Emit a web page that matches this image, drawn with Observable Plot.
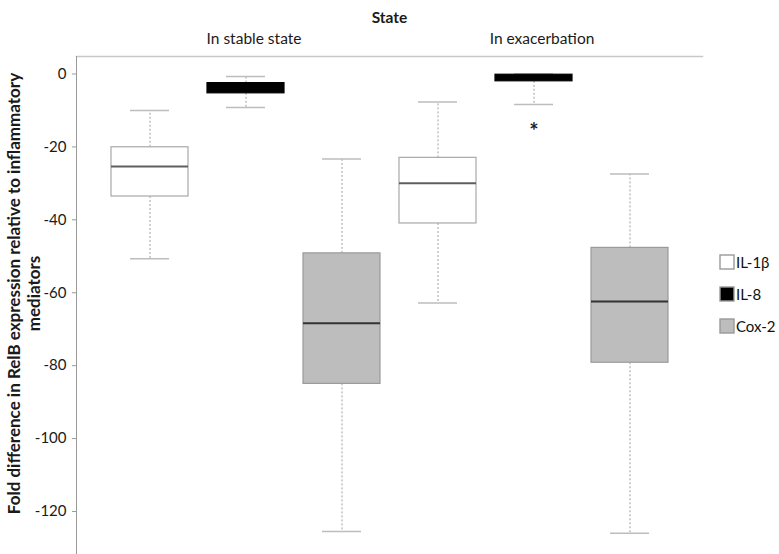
<!DOCTYPE html>
<html>
<head>
<meta charset="utf-8">
<script src="https://cdn.jsdelivr.net/npm/d3@7"></script>
<script src="https://cdn.jsdelivr.net/npm/@observablehq/plot@0.6"></script>
<style>
  html, body { margin: 0; padding: 0; background: #fff; }
  #wrap { position: relative; width: 779px; height: 554px; font-family: Lato, "DejaVu Sans", sans-serif; }
  #legend { position: absolute; left: 720px; top: 255px; width: 58px; }
  #wrap svg [aria-label="x-axis label"] { font-weight: bold; }
  #legend * { overflow: visible !important; max-width: none !important; text-overflow: clip !important; white-space: nowrap; }
  .lg-swatches { font-family: Lato, sans-serif; font-size: 15px; color: #111; columns: auto !important; }
  .lg-swatch { margin: 0 0 18px 0 !important; padding: 0 !important; height: 14px; line-height: 14px; display: flex; align-items: center; }
  .lg-swatch svg { margin-right: 2px !important; }
  .lg-swatch svg rect { stroke: #9a9a9a; stroke-width: 1.4px; }
</style>
</head>
<body>
<div id="wrap"><div id="legend"></div></div>
<script>
// ---- data ----
const states = ["In stable state", "In exacerbation"];
const mediators = ["IL-1β", "IL-8", "Cox-2"];
// order: stable IL-1β, stable IL-8, stable Cox-2, exac IL-1β, exac IL-8, exac Cox-2
const whiskerHigh = [-10, -0.7, -23.3, -7.7, 0, -27.4];
const boxTop      = [-20.1, -2.5, -49.2, -23, -0.2, -47.7];
const medianVal   = [-25.4, -4, -68.4, -30, -1.2, -62.4];
const boxBottom   = [-33.6, -5.3, -85, -41, -2, -79.2];
const whiskerLow  = [-50.7, -9.2, -125.5, -62.8, -8.4, -126];
const outlierState = ["In exacerbation"];
const outlierMediator = ["IL-8"];
const outlierValue = [-14.4];
const yTicks = [0, -20, -40, -60, -80, -100, -120];
const yLabel = "Fold difference in RelB expression relative to inflammatory\nmediators";

// ---- tables built from the arrays ----
const rows = states.flatMap((s, i) => mediators.map((m, j) => {
  const k = i * 3 + j;
  return {state: s, mediator: m, key: s + "|" + m,
    whiskerHigh: whiskerHigh[k], boxTop: boxTop[k], median: medianVal[k],
    boxBottom: boxBottom[k], whiskerLow: whiskerLow[k]};
}));
const outliers = outlierValue.map((v, i) => ({key: outlierState[i] + "|" + outlierMediator[i], value: v}));

const fills = ["#ffffff", "#000000", "#bdbdbd"];
const boxStroke = {"IL-1β": "#a8a8a8", "IL-8": "#000000", "Cox-2": "#9a9a9a"};
const medianStroke = {"IL-1β": "#5e5e5e", "IL-8": "#000000", "Cox-2": "#333333"};

const boxMarks = mediators.flatMap(m => {
  const d = rows.filter(r => r.mediator === m);
  return [
    Plot.barY(d, {x: "key", y1: "boxBottom", y2: "boxTop", fill: "mediator", stroke: boxStroke[m], strokeWidth: 1.2}),
    Plot.tickY(d, {x: "key", y: "median", stroke: medianStroke[m], strokeWidth: 2})
  ];
});

const chart = Plot.plot({
  width: 779,
  height: 554,
  marginTop: 56,
  marginBottom: 0,
  marginLeft: 76,
  marginRight: 77,
  style: {fontFamily: "Lato, sans-serif", fontSize: "15px", color: "#1a1a1a", background: "white"},
  x: {domain: rows.map(r => r.key), paddingInner: 0.2, paddingOuter: 0.335},
  y: {domain: [-131.8, 4.8]},
  color: {domain: mediators, range: fills},
  marks: [
    Plot.frame({anchor: "top", stroke: "#c8c8c8", strokeWidth: 1.5}),
    Plot.frame({anchor: "left", stroke: "#9a9a9a"}),
    Plot.axisY({ticks: yTicks, tickFormat: d => String(d), tickSize: 4, tickPadding: 6,
      stroke: "#9a9a9a", fill: "#1a1a1a", label: null}),
    Plot.text([yLabel], {frameAnchor: "left", text: d => d, rotate: -90, lineAnchor: "top", textAnchor: "middle",
      dx: -71, dy: -12, fontSize: 17, fontWeight: "bold", lineHeight: 1.2, fill: "#1a1a1a"}),
    Plot.axisX({anchor: "top", tickSize: 0, tickPadding: 13, dx: 8, fontSize: 15.5,
      tickFormat: k => k.endsWith("|IL-8") ? k.split("|")[0] : "",
      label: "State", labelAnchor: "center", labelOffset: 45, labelArrow: "none", fill: "#1a1a1a"}),
    Plot.ruleX(rows, {x: "key", y1: "boxTop", y2: "whiskerHigh", stroke: "#a0a0a0", strokeDasharray: "2,2"}),
    Plot.ruleX(rows, {x: "key", y1: "boxBottom", y2: "whiskerLow", stroke: "#a0a0a0", strokeDasharray: "2,2"}),
    Plot.tickY(rows, {x: "key", y: "whiskerHigh", stroke: "#bdbdbd", strokeWidth: 1.5, insetLeft: 19, insetRight: 19}),
    Plot.tickY(rows, {x: "key", y: "whiskerLow", stroke: "#bdbdbd", strokeWidth: 1.5, insetLeft: 19, insetRight: 19}),
    ...boxMarks,
    Plot.text(outliers, {x: "key", y: "value", text: () => "*", fontSize: 22, fontWeight: "bold", fill: "#222", dy: 5})
  ]
});
document.getElementById("wrap").prepend(chart);

const legend = Plot.legend({
  color: {domain: mediators, range: fills},
  legend: "swatches", columns: 1, swatchSize: 14, className: "lg"
});
document.getElementById("legend").append(legend);
</script>
</body>
</html>
